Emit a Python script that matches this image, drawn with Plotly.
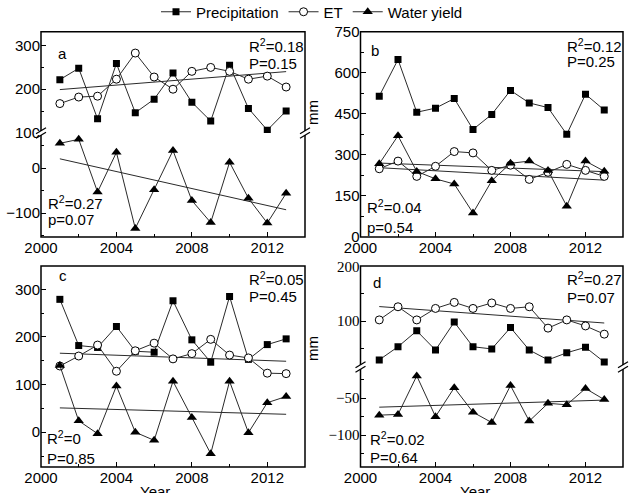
import numpy as np
import plotly.graph_objects as go

W, H = 630, 493
years = list(range(2001, 2014))

# Panel a
precip_a = [222, 248, 132, 259, 146, 177, 237, 170, 127, 255, 156, 106, 150]
et_a = [167, 182, 184, 223, 283, 228, 200, 241, 250, 241, 223, 230, 205]
wy_a = [55, 64, -53, 35, -134, -48, 39, -72, -121, 13, -67, -122, -56]
# Panel b
precip_b = [515, 649, 456, 471, 506, 393, 448, 536, 490, 473, 375, 522, 464]
et_b = [249, 277, 221, 258, 312, 307, 243, 262, 210, 236, 265, 243, 221]
wy_b = [267, 370, 239, 212, 193, 87, 205, 269, 277, 243, 112, 277, 240]
# Panel c
precip_c = [279, 182, 178, 222, 170, 168, 276, 194, 147, 285, 153, 184, 196]
et_c = [139, 160, 183, 128, 171, 187, 154, 165, 195, 162, 156, 124, 123]
wy_c = [140, 24, -3, 97, 0, -17, 107, 31, -45, 107, -1, 62, 75]
# Panel d
precip_d = [29, 53, 82, 47, 98, 53, 49, 88, 47, 29, 42, 52, 25]
et_d = [102, 126, 102, 123, 134, 123, 133, 123, 126, 87, 102, 91, 76]
wy_d = [-73, -72, -20, -75, -36, -69, -83, -33, -81, -57, -59, -37, -52]

stats_top = {"a": ("0.18", "P=0.15"), "b": ("0.12", "P=0.25"),
             "c": ("0.05", "P=0.45"), "d": ("0.27", "P=0.07")}
stats_bot = {"a": ("0.27", "p=0.07"), "b": ("0.04", "p=0.54"),
             "c": ("0", "P=0.85"), "d": ("0.02", "P=0.64")}

FONT = "Liberation Sans, Arial, sans-serif"
SERIF = "Liberation Serif, Times New Roman, serif"
LC = "#2a2a2a"

def px(x):
    return x / W

def py(y):
    return 1 - y / H

XL = [px(41), px(305)]
XR = [px(360.5), px(623)]
TOP = [py(237), py(31.7)]
BOT = [py(467), py(266)]
BRK_A = py(133)
BRK_D = py(367)

fig = go.Figure()

def series(x, y, xa, ya, kind, show):
    if kind == "P":
        mk = dict(symbol="square", size=7, color="black")
        name = "Precipitation"
    elif kind == "E":
        mk = dict(symbol="circle", size=8, color="white", line=dict(color="black", width=1))
        name = "ET"
    else:
        mk = dict(symbol="triangle-up", size=9, color="black")
        name = "Water yield"
    fig.add_trace(go.Scatter(x=x, y=y, xaxis=xa, yaxis=ya, mode="lines+markers",
                             line=dict(color=LC, width=1), marker=mk, name=name,
                             legendgroup=name, showlegend=show))

def trend(x, y, xa, ya):
    k, b = np.polyfit(x, y, 1)
    yy = [k * xi + b for xi in x]
    fig.add_trace(go.Scatter(x=[x[0], x[-1]], y=[yy[0], yy[-1]], xaxis=xa, yaxis=ya,
                             mode="lines", line=dict(color=LC, width=1), showlegend=False,
                             hoverinfo="skip"))

# panel a
trend(years, et_a, "x", "y")
trend(years, wy_a, "x", "y2")
series(years, precip_a, "x", "y", "P", True)
series(years, et_a, "x", "y", "E", True)
series(years, wy_a, "x", "y2", "W", True)
# panel b
trend(years, et_b, "x2", "y3")
trend(years, wy_b, "x2", "y3")
series(years, precip_b, "x2", "y3", "P", False)
series(years, et_b, "x2", "y3", "E", False)
series(years, wy_b, "x2", "y3", "W", False)
# panel c
trend(years, et_c, "x3", "y4")
trend(years, wy_c, "x3", "y4")
series(years, precip_c, "x3", "y4", "P", False)
series(years, et_c, "x3", "y4", "E", False)
series(years, wy_c, "x3", "y4", "W", False)
# panel d
trend(years, et_d, "x4", "y5")
trend(years, wy_d, "x4", "y6")
series(years, precip_d, "x4", "y5", "P", False)
series(years, et_d, "x4", "y5", "E", False)
series(years, wy_d, "x4", "y6", "W", False)

tickfont = dict(family=FONT, size=15, color="black")

def xax(domain, anchor):
    return dict(domain=domain, anchor=anchor, range=[2000, 2014], dtick=4, tick0=2000,
                ticks="inside", ticklen=5, tickwidth=1.2, tickcolor="black",
                minor=dict(dtick=2, tick0=2000, ticks="inside", ticklen=3, tickcolor="black"),
                showgrid=False, zeroline=False, showline=False, tickfont=tickfont)

def yax(domain, anchor, rng, dtick, minor, font=tickfont):
    return dict(domain=domain, anchor=anchor, range=rng, dtick=dtick, tick0=0,
                ticks="inside", ticklen=5, tickwidth=1.2, tickcolor="black",
                minor=dict(dtick=minor, tick0=0, ticks="inside", ticklen=3, tickcolor="black"),
                showgrid=False, zeroline=False, showline=False, tickfont=font)

serif_font = dict(family=SERIF, size=15, color="black")

fig.update_layout(
    width=W, height=H, autosize=False,
    margin=dict(l=0, r=0, t=0, b=0, autoexpand=False),
    paper_bgcolor="white", plot_bgcolor="rgba(0,0,0,0)",
    font=dict(family=FONT, size=15, color="black"),
    xaxis=xax(XL, "y2"),
    yaxis=yax([BRK_A, TOP[1]], "x", [99.5, 332], 100, 50),
    yaxis2=yax([TOP[0], BRK_A], "x", [-153, 78], 100, 50),
    xaxis2=xax(XR, "y3"),
    yaxis3=yax(TOP, "x2", [-1, 751], 150, 75),
    xaxis3=xax(XL, "y4"),
    yaxis4=yax(BOT, "x3", [-73, 349], 100, 50),
    xaxis4=xax(XR, "y6"),
    yaxis5=yax([BRK_D, BOT[1]], "x4", [16, 200.5], 100, 50, serif_font),
    yaxis6=yax([BOT[0], BRK_D], "x4", [-143, -8], 50, 25, serif_font),
    legend=dict(orientation="h", x=px(312), xanchor="center", y=py(12), yanchor="middle",
                font=dict(family=FONT, size=15, color="black"), bgcolor="rgba(0,0,0,0)",
                itemwidth=30, tracegroupgap=0),
    showlegend=True,
)

shapes = []
for xd, yd in [(XL, TOP), (XR, TOP), (XL, BOT), (XR, BOT)]:
    shapes.append(dict(type="rect", xref="paper", yref="paper", x0=xd[0], x1=xd[1],
                       y0=yd[0], y1=yd[1], line=dict(color="black", width=1.5),
                       fillcolor="rgba(0,0,0,0)", layer="above"))
# axis break marks
for xd, yb in [(XL, BRK_A), (XR, BRK_D)]:
    for xe in xd:
        shapes.append(dict(type="rect", xref="paper", yref="paper",
                           x0=xe - px(4), x1=xe + px(4), y0=yb - 2 / H, y1=yb + 2 / H,
                           fillcolor="white", line=dict(width=0), layer="above"))
        for off in (-2.2, 2.2):
            shapes.append(dict(type="line", xref="paper", yref="paper",
                               x0=xe - px(5), x1=xe + px(5),
                               y0=yb + off / H - 3 / H, y1=yb + off / H + 3 / H,
                               line=dict(color="black", width=1.3), layer="above"))
fig.update_layout(shapes=shapes)

ann = []
def text(x, y, s, anchor="left", font=None, angle=0):
    ann.append(dict(x=px(x), y=py(y), xref="paper", yref="paper", text=s, showarrow=False,
                    xanchor=anchor, yanchor="middle", textangle=angle,
                    font=font or dict(family=FONT, size=15, color="black")))

# panel letters
text(62, 53, "a", "center")
text(375, 50, "b", "center")
text(63, 275, "c", "center")
text(377, 282, "d", "center")

for key, (xr, y1, y2) in {"a": (247, 45, 63), "b": (565, 45, 62),
                           "c": (247, 278, 296), "d": (565, 278, 297)}.items():
    r2, p = stats_top[key]
    text(xr, y1, "R<sup>2</sup>=" + r2)
    text(xr, y2, p)
for key, (xl, y1, y2) in {"a": (46, 202, 220), "b": (365, 207, 227),
                           "c": (45, 437, 458), "d": (368, 438, 457)}.items():
    r2, p = stats_bot[key]
    text(xl, y1, "R<sup>2</sup>=" + r2)
    text(xl, y2, p)

# axis titles
for x, y in [(-12, 117), (312, 113), (-12, 345), (312, 349)]:
    text(x, y, "mm", "center", angle=-90)
text(155, 491, "Year", "center")
text(475, 491, "Year", "center")

fig.update_layout(annotations=ann)
fig.write_html("out.html")
